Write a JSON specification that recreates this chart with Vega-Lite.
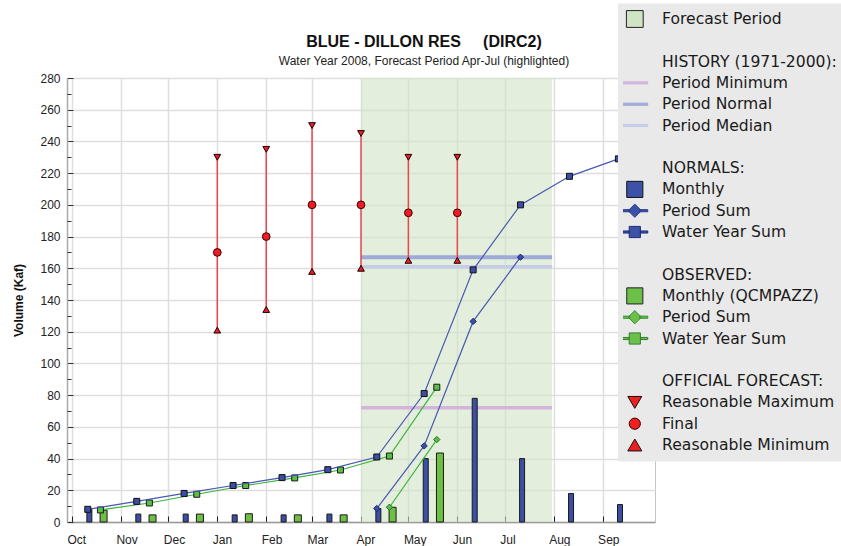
{
  "$schema": "https://vega.github.io/schema/vega-lite/v6.json",
  "width": 588,
  "height": 444,
  "autosize": {"type": "none"},
  "padding": {"left": 67, "top": 78, "right": 186, "bottom": 24},
  "background": "white",
  "title": {
    "text": "BLUE - DILLON RES\u00a0\u00a0\u00a0\u00a0\u00a0(DIRC2)",
    "subtitle": "Water Year 2008, Forecast Period Apr-Jul (highlighted)",
    "anchor": "middle",
    "frame": "group",
    "dx": 63,
    "offset": -63,
    "font": "Liberation Sans",
    "fontSize": 16,
    "fontWeight": "bold",
    "color": "#111111",
    "subtitleFont": "Liberation Sans",
    "subtitleFontSize": 12,
    "subtitleColor": "#222222",
    "subtitlePadding": 6
  },
  "config": {
    "view": {"stroke": "#c4c4c4", "strokeWidth": 1},
    "font": "Liberation Sans",
    "axisX": {
      "labelAlign": "left",
      "labelBaseline": "top",
      "labelPadding": 18,
      "labelOffset": -5,
      "labelFlush": false,
      "labelOverlap": false,
      "labelFont": "Liberation Sans",
      "labelFontSize": 12,
      "labelColor": "#222222",
      "grid": true,
      "gridColor": "#dedede",
      "gridWidth": 1.5,
      "tickSize": -6,
      "tickColor": "#222222",
      "tickWidth": 1,
      "domainColor": "#999999",
      "domainWidth": 1.5
    },
    "axisY": {
      "labelOverlap": false,
      "labelFont": "Liberation Sans",
      "labelFontSize": 12,
      "labelColor": "#222222",
      "labelPadding": 13,
      "grid": true,
      "gridColor": "#dedede",
      "gridWidth": 1.5,
      "tickSize": -6,
      "tickColor": "#333333",
      "tickWidth": 1,
      "domainColor": "#aaaaaa",
      "domainWidth": 1.5,
      "titleFont": "Liberation Sans",
      "titleFontSize": 12,
      "titleFontWeight": "bold",
      "titleColor": "#111111",
      "titlePadding": 14
    }
  },
  "datasets": {
    "period": [{"date": "2008-04-01", "end": "2008-07-31"}],
    "history": [
      {"name": "Period Minimum", "date": "2008-04-01", "end": "2008-07-31", "v": 72},
      {"name": "Period Normal", "date": "2008-04-01", "end": "2008-07-31", "v": 167},
      {"name": "Period Median", "date": "2008-04-01", "end": "2008-07-31", "v": 161}
    ],
    "nbars": [
      {"date": "2007-10-12", "v": 8}, {"date": "2007-11-12", "v": 5}, {"date": "2007-12-12", "v": 5},
      {"date": "2008-01-12", "v": 4.5}, {"date": "2008-02-12", "v": 4.5}, {"date": "2008-03-12", "v": 5},
      {"date": "2008-04-12", "v": 8.5}, {"date": "2008-05-12", "v": 40}, {"date": "2008-06-12", "v": 78},
      {"date": "2008-07-12", "v": 40}, {"date": "2008-08-12", "v": 18}, {"date": "2008-09-12", "v": 11}
    ],
    "obars": [
      {"date": "2007-10-21", "v": 7.5}, {"date": "2007-11-21", "v": 4.5}, {"date": "2007-12-21", "v": 5},
      {"date": "2008-01-21", "v": 5.2}, {"date": "2008-02-21", "v": 4.5}, {"date": "2008-03-21", "v": 4.5},
      {"date": "2008-04-21", "v": 9.3}, {"date": "2008-05-21", "v": 43.5}
    ],
    "nwys": [
      {"date": "2007-10-11", "v": 8}, {"date": "2007-11-11", "v": 13}, {"date": "2007-12-11", "v": 18},
      {"date": "2008-01-11", "v": 23}, {"date": "2008-02-11", "v": 28}, {"date": "2008-03-11", "v": 33},
      {"date": "2008-04-11", "v": 41}, {"date": "2008-05-11", "v": 81}, {"date": "2008-06-11", "v": 159},
      {"date": "2008-07-11", "v": 200}, {"date": "2008-08-11", "v": 218}, {"date": "2008-09-11", "v": 229}
    ],
    "owys": [
      {"date": "2007-10-19", "v": 7.6}, {"date": "2007-11-19", "v": 12}, {"date": "2007-12-19", "v": 17.5},
      {"date": "2008-01-19", "v": 23}, {"date": "2008-02-19", "v": 27.8}, {"date": "2008-03-19", "v": 32.8},
      {"date": "2008-04-19", "v": 41.6}, {"date": "2008-05-19", "v": 85}
    ],
    "nps": [
      {"date": "2008-04-11", "v": 8.5}, {"date": "2008-05-11", "v": 48},
      {"date": "2008-06-11", "v": 126.5}, {"date": "2008-07-11", "v": 167}
    ],
    "ops": [
      {"date": "2008-04-19", "v": 9.3}, {"date": "2008-05-19", "v": 52}
    ],
    "forecast": [
      {"date": "2008-01-01", "max": 230, "final": 170, "min": 121},
      {"date": "2008-02-01", "max": 235, "final": 180, "min": 134},
      {"date": "2008-03-01", "max": 250, "final": 200, "min": 158},
      {"date": "2008-04-01", "max": 245, "final": 200, "min": 160},
      {"date": "2008-05-01", "max": 230, "final": 195, "min": 165},
      {"date": "2008-06-01", "max": 230, "final": 195, "min": 165}
    ]
  },
  "resolve": {"axis": {"y": "independent"}},
  "layer": [
    {
      "layer": [
        {
          "data": {"name": "period"},
          "mark": {"type": "rect", "opacity": 0.6},
          "encoding": {
            "x": {
              "field": "date", "type": "temporal", "title": null,
              "scale": {
                "type": "utc", "nice": false,
                "domain": [{"year": 2007, "month": 10, "date": 1, "utc": true}, {"year": 2008, "month": 10, "date": 1, "utc": true}]
              },
              "axis": {
                "values": [
                  {"year": 2007, "month": 10, "date": 1, "utc": true}, {"year": 2007, "month": 11, "date": 1, "utc": true},
                  {"year": 2007, "month": 12, "date": 1, "utc": true}, {"year": 2008, "month": 1, "date": 1, "utc": true},
                  {"year": 2008, "month": 2, "date": 1, "utc": true}, {"year": 2008, "month": 3, "date": 1, "utc": true},
                  {"year": 2008, "month": 4, "date": 1, "utc": true}, {"year": 2008, "month": 5, "date": 1, "utc": true},
                  {"year": 2008, "month": 6, "date": 1, "utc": true}, {"year": 2008, "month": 7, "date": 1, "utc": true},
                  {"year": 2008, "month": 8, "date": 1, "utc": true}, {"year": 2008, "month": 9, "date": 1, "utc": true}
                ],
                "tickCount": 50,
                "format": "%b",
                "labelAlign": "left",
                "labelOverlap": false,
                "labelFlush": false
              }
            },
            "x2": {"field": "end"},
            "y": {
              "datum": 0, "type": "quantitative", "title": "Volume (Kaf)",
              "scale": {"domain": [0, 280], "nice": false},
              "axis": {
                "orient": "left",
                "values": [0, 20, 40, 60, 80, 100, 120, 140, 160, 180, 200, 220, 240, 260, 280],
                "tickCount": 50,
                "labelOverlap": false
              }
            },
            "y2": {"datum": 280},
            "color": {
              "datum": "Forecast Period",
              "scale": {
                "domain": ["Forecast Period", " ", "HISTORY (1971-2000):", "Period Minimum", "Period Normal", "Period Median", "  ", "NORMALS:", "Monthly", "Period Sum", "Water Year Sum", "   ", "OBSERVED:", "Monthly (QCMPAZZ)", "Period Sum ", "Water Year Sum ", "    ", "OFFICIAL FORECAST:", "Reasonable Maximum", "Final", "Reasonable Minimum"],
                "range": ["#d0e4c5", "#000000", "#000000", "#d2b4dc", "#9eaad8", "#c6cbe9", "#000000", "#000000", "#3c52a6", "#3c52a6", "#3c52a6", "#000000", "#000000", "#6cc04a", "#6cc04a", "#6cc04a", "#000000", "#000000", "#ee2020", "#ee2020", "#ee2020"]
              },
              "legend": {
                "orient": "none",
                "legendX": 551,
                "legendY": -74.5,
                "title": null,
                "padding": 5,
                "fillColor": "#e9e9e9",
                "clipHeight": 21,
                "rowPadding": 0.3,
                "symbolSize": 196,
                "symbolStrokeWidth": 1,
                "symbolOffset": 4,
                "labelOffset": 19.5,
                "labelFont": "DejaVu Sans",
                "labelFontSize": 15.6,
                "labelColor": "#1a1a1a",
                "labelLimit": 300,
                "direction": "vertical",
                "encoding": {
                  "symbols": {
                    "shape": {"value": {"expr": "['M-1.2,-1.2H1.2V1.2H-1.2Z','M0,0','M0,0','M-1.85,-0.15H1.85V0.15H-1.85Z','M-1.85,-0.15H1.85V0.15H-1.85Z','M-1.85,-0.15H1.85V0.15H-1.85Z','M0,0','M0,0','M-1.15,-1.15H1.15V1.15H-1.15Z','M-1.85,-0.15H-0.7V0.15H-1.85ZM0.7,-0.15H1.85V0.15H0.7ZM-0.95,0L0,-0.95L0.95,0L0,0.95Z','M-1.85,-0.15H-0.8V0.15H-1.85ZM0.8,-0.15H1.85V0.15H0.8ZM-0.8,-0.8H0.8V0.8H-0.8Z','M0,0','M0,0','M-1.15,-1.15H1.15V1.15H-1.15Z','M-1.85,-0.15H-0.7V0.15H-1.85ZM0.7,-0.15H1.85V0.15H0.7ZM-0.95,0L0,-0.95L0.95,0L0,0.95Z','M-1.85,-0.15H-0.8V0.15H-1.85ZM0.8,-0.15H1.85V0.15H0.8ZM-0.8,-0.8H0.8V0.8H-0.8Z','M0,0','M0,0','M-1,-0.85H1L0,0.85Z','M-0.8,0A0.8,0.8,0,1,1,0.8,0A0.8,0.8,0,1,1,-0.8,0Z','M-1,0.85H1L0,-0.85Z'][datum.index]"}},
                    "fill": {"value": {"expr": "['#c9e6c1','transparent','transparent','#d2b4dc','#9eaad8','#c6cbe9','transparent','transparent','#3c52a6','#3c52a6','#3c52a6','transparent','transparent','#6cc04a','#6cc04a','#6cc04a','transparent','transparent','#ee2020','#ee2020','#ee2020'][datum.index]"}},
                    "stroke": {"value": {"expr": "['#222222','transparent','transparent','#d2b4dc','#9eaad8','#c6cbe9','transparent','transparent','#111111','#2a3a90','#1e2a7a','transparent','transparent','#222222','#2f8f2f','#2f7f2f','transparent','transparent','#111111','#3a0000','#111111'][datum.index]"}},
                    "opacity": {"value": 1}
                  }
                }
              }
            }
          }
        },
        {
          "data": {"name": "history"},
          "transform": [{"filter": "datum.name === 'Period Minimum'"}],
          "mark": {"type": "rule", "color": "#d2b4dc", "strokeWidth": 3.5},
          "encoding": {
            "x": {"field": "date", "type": "temporal", "title": null},
            "x2": {"field": "end"},
            "y": {"field": "v", "type": "quantitative", "title": "Volume (Kaf)"}
          }
        },
        {
          "data": {"name": "history"},
          "transform": [{"filter": "datum.name === 'Period Median'"}],
          "mark": {"type": "rule", "color": "#c6cbe9", "strokeWidth": 3.5},
          "encoding": {
            "x": {"field": "date", "type": "temporal", "title": null},
            "x2": {"field": "end"},
            "y": {"field": "v", "type": "quantitative", "title": "Volume (Kaf)"}
          }
        },
        {
          "data": {"name": "history"},
          "transform": [{"filter": "datum.name === 'Period Normal'"}],
          "mark": {"type": "rule", "color": "#9eaad8", "strokeWidth": 4},
          "encoding": {
            "x": {"field": "date", "type": "temporal", "title": null},
            "x2": {"field": "end"},
            "y": {"field": "v", "type": "quantitative", "title": "Volume (Kaf)"}
          }
        },
        {
          "data": {"name": "nbars"},
          "mark": {"type": "bar", "width": 5, "fill": "#3c4fa3", "stroke": "#1a1a1a", "strokeWidth": 1},
          "encoding": {
            "x": {"field": "date", "type": "temporal", "title": null},
            "y": {"field": "v", "type": "quantitative", "title": "Volume (Kaf)"}
          }
        },
        {
          "data": {"name": "obars"},
          "mark": {"type": "bar", "width": 7, "fill": "#70bf45", "stroke": "#1a1a1a", "strokeWidth": 1},
          "encoding": {
            "x": {"field": "date", "type": "temporal", "title": null},
            "y": {"field": "v", "type": "quantitative", "title": "Volume (Kaf)"}
          }
        },
        {
          "data": {"name": "owys"},
          "mark": {"type": "line", "color": "#3cb43c", "strokeWidth": 1.2, "point": {"shape": "square", "size": 36, "filled": true, "fill": "#5cbf45", "stroke": "#1a1a1a", "strokeWidth": 1}},
          "encoding": {
            "x": {"field": "date", "type": "temporal", "title": null},
            "y": {"field": "v", "type": "quantitative", "title": "Volume (Kaf)"}
          }
        },
        {
          "data": {"name": "ops"},
          "mark": {"type": "line", "color": "#3cb43c", "strokeWidth": 1.2, "point": {"shape": "diamond", "size": 40, "filled": true, "fill": "#5cbf45", "stroke": "#2a6a2a", "strokeWidth": 1}},
          "encoding": {
            "x": {"field": "date", "type": "temporal", "title": null},
            "y": {"field": "v", "type": "quantitative", "title": "Volume (Kaf)"}
          }
        },
        {
          "data": {"name": "nwys"},
          "mark": {"type": "line", "color": "#4a58b0", "strokeWidth": 1.2, "point": {"shape": "square", "size": 36, "filled": true, "fill": "#3b4ea3", "stroke": "#111111", "strokeWidth": 1}},
          "encoding": {
            "x": {"field": "date", "type": "temporal", "title": null},
            "y": {"field": "v", "type": "quantitative", "title": "Volume (Kaf)"}
          }
        },
        {
          "data": {"name": "nps"},
          "mark": {"type": "line", "color": "#4a58b0", "strokeWidth": 1.2, "point": {"shape": "diamond", "size": 40, "filled": true, "fill": "#3b4ea3", "stroke": "#1a2a70", "strokeWidth": 1}},
          "encoding": {
            "x": {"field": "date", "type": "temporal", "title": null},
            "y": {"field": "v", "type": "quantitative", "title": "Volume (Kaf)"}
          }
        },
        {
          "data": {"name": "forecast"},
          "mark": {"type": "rule", "color": "#e8474c", "strokeWidth": 1.5},
          "encoding": {
            "x": {"field": "date", "type": "temporal", "title": null},
            "y": {"field": "min", "type": "quantitative", "title": "Volume (Kaf)"},
            "y2": {"field": "max"}
          }
        },
        {
          "data": {"name": "forecast"},
          "mark": {"type": "point", "shape": "triangle-down", "size": 45, "filled": true, "fill": "#ee1c25", "stroke": "#1a0000", "strokeWidth": 1, "opacity": 1},
          "encoding": {
            "x": {"field": "date", "type": "temporal", "title": null},
            "y": {"field": "max", "type": "quantitative", "title": "Volume (Kaf)"}
          }
        },
        {
          "data": {"name": "forecast"},
          "mark": {"type": "point", "shape": "circle", "size": 60, "filled": true, "fill": "#ee1c25", "stroke": "#3a0000", "strokeWidth": 1, "opacity": 1},
          "encoding": {
            "x": {"field": "date", "type": "temporal", "title": null},
            "y": {"field": "final", "type": "quantitative", "title": "Volume (Kaf)"}
          }
        },
        {
          "data": {"name": "forecast"},
          "mark": {"type": "point", "shape": "triangle-up", "size": 45, "filled": true, "fill": "#ee1c25", "stroke": "#1a0000", "strokeWidth": 1, "opacity": 1},
          "encoding": {
            "x": {"field": "date", "type": "temporal", "title": null},
            "y": {"field": "min", "type": "quantitative", "title": "Volume (Kaf)"}
          }
        }
      ]
    },
    {
      "data": {"name": "period"},
      "mark": {"type": "rule", "opacity": 0},
      "encoding": {
        "x": {"field": "date", "type": "temporal", "title": null},
        "y": {
          "datum": 0, "type": "quantitative", "title": null,
          "axis": {
            "orient": "left",
            "values": [10, 30, 50, 70, 90, 110, 130, 150, 170, 190, 210, 230, 250, 270],
            "tickCount": 50,
            "labels": false,
            "grid": false,
            "domain": false,
            "tickSize": -4
          }
        }
      }
    }
  ]
}
